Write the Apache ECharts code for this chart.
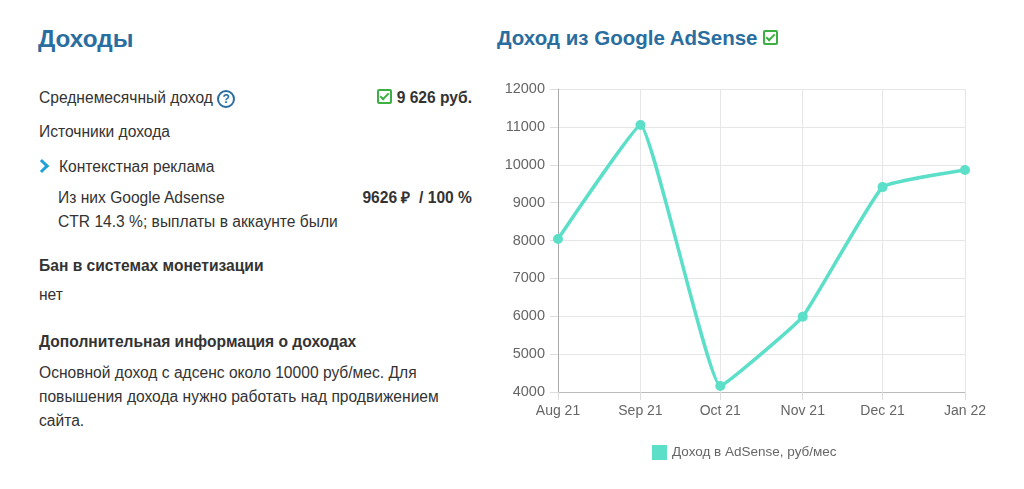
<!DOCTYPE html>
<html>
<head>
<meta charset="utf-8">
<script src="https://cdn.jsdelivr.net/npm/echarts@6/dist/echarts.min.js"></script>
<style>
  html, body { margin: 0; padding: 0; background: #fff; }
  body { width: 1024px; height: 489px; position: relative; overflow: hidden;
         font-family: "Liberation Sans", Arial, sans-serif; color: #333; }
  .t { position: absolute; white-space: nowrap; font-size: 15.6px; line-height: 18px; }
  .h1 { font-size: 24.3px; font-weight: bold; color: #2a6d9f; line-height: 28px; }
  .h2 { font-size: 20.5px; font-weight: bold; color: #2a6d9f; line-height: 24px; }
  .b { font-weight: bold; }
  .chk { display: inline-block; width: 11px; height: 11px; border: 2px solid #3cb043;
         border-radius: 2px; position: relative; vertical-align: -1px; }
  .chk:after { content: ""; position: absolute; left: 3px; top: 0px; width: 3px; height: 7px;
         border: solid #3cb043; border-width: 0 2px 2px 0; transform: rotate(45deg); }
  .q { display: inline-block; width: 14px; height: 14px; border: 2px solid #2a6d9f; border-radius: 50%;
       color: #2a6d9f; font-size: 12px; font-weight: bold; line-height: 14px; text-align: center;
       vertical-align: 0px; }
  .chev { position: absolute; width: 7px; height: 7px; border: solid #1da1d6; border-width: 3px 3px 0 0;
          transform: rotate(45deg); }
  #chart { position: absolute; left: 490px; top: 70px; width: 534px; height: 419px; }
</style>
</head>
<body>
<div class="t h1" style="left:38px; top:25px;">Доходы</div>

<div class="t" style="left:39px; top:89px;">Среднемесячный доход <span class="q">?</span></div>
<div class="t b" style="right:552px; top:89px;"><span class="chk"></span> 9 626 руб.</div>

<div class="t" style="left:39px; top:123px;">Источники дохода</div>

<div class="chev" style="left:37px; top:161px;"></div>
<div class="t" style="left:59px; top:158px;">Контекстная реклама</div>

<div class="t" style="left:58px; top:189px;">Из них Google Adsense</div>
<div class="t b" style="right:552px; top:189px;">9626 ₽ &nbsp;/ 100 %</div>
<div class="t" style="left:58px; top:213px;">CTR 14.3 %; выплаты в аккаунте были</div>

<div class="t b" style="left:39px; top:257px;">Бан в системах монетизации</div>
<div class="t" style="left:39px; top:286px;">нет</div>

<div class="t b" style="left:39px; top:333px;">Дополнительная информация о доходах</div>
<div class="t" style="left:39px; top:361px; line-height:24px; white-space:normal; width:420px;">Основной доход с адсенс около 10000 руб/мес. Для повышения дохода нужно работать над продвижением сайта.</div>

<div class="t h2" style="left:497px; top:26px;">Доход из Google AdSense <span class="chk" style="vertical-align:0px;"></span></div>

<div id="chart"></div>

<script>
// month starts (time axis) and monthly AdSense income, rub
const months = ['2021-08-01', '2021-09-01', '2021-10-01', '2021-11-01', '2021-12-01', '2022-01-01'];
const income = [8040, 11050, 4160, 5990, 9410, 9860];
const monthNames = ['Jan', 'Feb', 'Mar', 'Apr', 'May', 'Jun', 'Jul', 'Aug', 'Sep', 'Oct', 'Nov', 'Dec'];
const seriesName = 'Доход в AdSense, руб/мес';

const lineColor = '#5cdfc8';
const DAY = 24 * 3600 * 1000;

let chartEl = document.getElementById('chart');
var chart = echarts.init(chartEl);

const option = {
    animation: false,
    textStyle: { fontFamily: 'Liberation Sans, Arial, sans-serif' },
    legend: {
        left: 157,
        top: 370,
        icon: 'rect',
        itemWidth: 15,
        itemHeight: 15,
        itemGap: 6,
        textStyle: { color: '#666', fontSize: 13.5 },
        data: [seriesName]
    },
    grid: { left: 68, right: 59, top: 19, bottom: 97, containLabel: false },
    xAxis: {
        type: 'time',
        min: new Date(months[0]).getTime(),
        max: new Date(months[months.length - 1]).getTime(),
        minInterval: 28 * DAY,
        maxInterval: 31 * DAY,
        axisLine: { lineStyle: { color: '#bbb' } },
        axisTick: { show: true, length: 8, lineStyle: { color: '#ddd' } },
        splitLine: { show: true, lineStyle: { color: '#e6e6e6' } },
        axisLabel: {
            color: '#666',
            fontSize: 14,
            margin: 12,
            showMinLabel: true,
            showMaxLabel: true,
            formatter: function (val) {
                const d = new Date(val);
                return monthNames[d.getMonth()] + ' ' + String(d.getFullYear()).slice(2);
            }
        }
    },
    yAxis: {
        type: 'value',
        min: 4000,
        max: 12000,
        interval: 1000,
        axisLine: { show: true, lineStyle: { color: '#aaa' } },
        axisTick: { show: true, length: 8, lineStyle: { color: '#ddd' } },
        splitLine: { lineStyle: { color: '#e6e6e6' } },
        axisLabel: { color: '#666', fontSize: 14.5, margin: 13, formatter: (v) => String(v) }
    },
    series: [
        {
            name: seriesName,
            type: 'line',
            smooth: 0.1,
            data: months.map((m, i) => [new Date(m).getTime(), income[i]]),
            symbol: 'circle',
            symbolSize: 10,
            itemStyle: { color: lineColor },
            lineStyle: { color: lineColor, width: 3.5 }
        }
    ]
};

chart.setOption(option);
</script>
</body>
</html>
